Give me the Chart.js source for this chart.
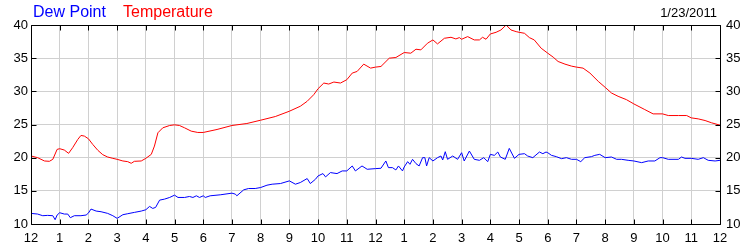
<!DOCTYPE html>
<html>
<head>
<meta charset="utf-8">
<script src="https://cdn.jsdelivr.net/npm/chart.js@4.4.1/dist/chart.umd.min.js"></script>
<style>
  html, body { margin: 0; padding: 0; background: #fff; }
  #wrap { position: relative; width: 750px; height: 250px; overflow: hidden; }
  #wrap canvas { position: absolute; left: 0; top: 0; }
  .lbl { position: absolute; font-family: "Liberation Sans", Arial, sans-serif; white-space: nowrap; }
  #dew { left: 33px; top: 4px; font-size: 16px; line-height: 16px; color: #0000ff; }
  #tmp { left: 123px; top: 4px; font-size: 16px; line-height: 16px; color: #ff0000; }
  #date { right: 33px; top: 6px; font-size: 13px; line-height: 13px; color: #000; }
</style>
</head>
<body>
<div id="wrap">
  <canvas id="c" width="750" height="250"></canvas>
  <div class="lbl" id="dew">Dew Point</div>
  <div class="lbl" id="tmp">Temperature</div>
  <div class="lbl" id="date">1/23/2011</div>
</div>
<script>
// ---- data (hours after midnight, degrees) ----
const hourLabels = ['12','1','2','3','4','5','6','7','8','9','10','11','12','1','2','3','4','5','6','7','8','9','10','11','12'];
const yMin = 10, yMax = 40, yStep = 5;

const tempTimes = [
  0, 0.23, 0.47, 0.64, 0.76, 0.91, 1.0, 1.16, 1.31, 1.45, 1.63, 1.74, 1.86, 2.0, 2.15, 2.33, 2.5, 2.67, 2.85, 3.0,
  3.2, 3.37, 3.49, 3.6, 3.84, 4.0, 4.19, 4.3, 4.42, 4.59, 4.83, 5.0, 5.17, 5.35, 5.58, 5.81, 6.0, 6.48, 7.0, 7.52,
  8.0, 8.51, 9.0, 9.38, 9.62, 9.85, 10.0, 10.2, 10.37, 10.55, 10.78, 11.0, 11.19, 11.36, 11.59, 11.83, 12.0, 12.19, 12.48, 12.71,
  13.0, 13.23, 13.41, 13.58, 13.81, 14.0, 14.16, 14.4, 14.63, 14.8, 14.92, 15.0, 15.21, 15.44, 15.62, 15.73, 15.85, 16.0, 16.2, 16.37,
  16.55, 16.72, 16.9, 17.0, 17.19, 17.36, 17.53, 17.77, 18.0, 18.19, 18.36, 18.6, 18.83, 19.0, 19.23, 19.47, 19.76, 20.0, 20.22, 20.45,
  20.74, 21.0, 21.38, 21.67, 22.0, 22.2, 22.55, 22.84, 23.0, 23.24, 23.48, 23.71, 24.0
];
const tempValues = [
  20.25, 20.0, 19.5, 19.45, 19.75, 21.25, 21.35, 21.15, 20.65, 21.5, 22.75, 23.35, 23.25, 22.85, 22.0, 21.1, 20.45, 20.1, 19.9, 19.75,
  19.5, 19.4, 19.15, 19.45, 19.5, 19.9, 20.5, 21.75, 23.75, 24.5, 24.85, 24.95, 24.85, 24.5, 24.0, 23.8, 23.8, 24.25, 24.85, 25.15,
  25.65, 26.2, 27.0, 27.75, 28.5, 29.5, 30.4, 31.25, 31.1, 31.4, 31.25, 31.75, 32.75, 33.0, 34.1, 33.5, 33.65, 33.75, 35.0, 35.1,
  35.85, 35.75, 36.35, 36.25, 37.25, 37.75, 37.15, 38.0, 38.15, 37.9, 38.1, 37.85, 38.25, 37.75, 37.75, 38.15, 37.85, 38.65, 38.9, 39.25,
  40.0, 39.25, 39.0, 38.9, 38.75, 38.1, 37.75, 36.5, 35.75, 35.15, 34.5, 34.1, 33.8, 33.65, 33.5, 32.75, 31.5, 30.6, 29.75, 29.25,
  28.75, 28.1, 27.25, 26.6, 26.6, 26.35, 26.35, 26.35, 26.0, 25.85, 25.6, 25.25, 24.9
];

const dewTimes = [
  0, 0.23, 0.41, 0.58, 0.76, 0.84, 0.91, 1.0, 1.16, 1.28, 1.37, 1.51, 1.74, 1.92, 2.0, 2.09, 2.27, 2.44, 2.67, 2.85,
  3.0, 3.2, 3.37, 3.6, 3.84, 4.0, 4.13, 4.24, 4.34, 4.48, 4.65, 4.83, 5.0, 5.12, 5.35, 5.52, 5.64, 5.76, 5.87, 6.0,
  6.07, 6.24, 6.59, 7.0, 7.12, 7.17, 7.41, 7.58, 7.81, 8.0, 8.22, 8.4, 8.69, 9.0, 9.21, 9.38, 9.62, 9.73, 9.91, 10.0,
  10.17, 10.26, 10.43, 10.66, 10.84, 11.0, 11.19, 11.3, 11.53, 11.71, 12.0,
  12.19, 12.36, 12.45, 12.59, 12.71, 12.8, 12.94, 13.0, 13.12, 13.2, 13.29, 13.41, 13.52, 13.64, 13.72, 13.78, 13.87, 14.0, 14.16, 14.28,
  14.34, 14.43, 14.51, 14.69, 14.86, 15.0, 15.09, 15.27, 15.44, 15.62, 15.77, 15.91, 16.0, 16.14, 16.26, 16.35, 16.52, 16.66, 16.84, 17.0,
  17.19, 17.3, 17.48, 17.71, 17.83, 17.94,
  18.0, 18.13, 18.3, 18.48, 18.65, 18.83, 19.0, 19.15, 19.29, 19.52, 19.64, 19.81, 20.0, 20.22, 20.4, 20.57, 20.8, 21.0, 21.27, 21.5,
  21.73, 21.91, 22.0, 22.2, 22.55, 22.66, 22.78, 23.0, 23.24, 23.42, 23.59, 23.83, 24.0
];
const dewValues = [
  11.6, 11.5, 11.25, 11.3, 11.25, 10.65, 11.35, 11.7, 11.5, 11.5, 10.95, 11.25, 11.25, 11.35, 11.65, 12.25, 11.95, 11.85, 11.6, 11.25,
  10.85, 11.4, 11.55, 11.75, 11.95, 12.15, 12.65, 12.35, 12.5, 13.6, 13.75, 14.0, 14.35, 14.0, 14.0, 14.15, 14.0, 14.25, 14.0, 14.25,
  14.0, 14.25, 14.4, 14.65, 14.5, 14.25, 15.15, 15.35, 15.35, 15.5, 15.85, 16.0, 16.1, 16.5, 16.0, 16.25, 16.85, 16.1, 16.75, 17.25,
  17.6, 17.1, 17.75, 17.6, 18.0, 18.0, 18.75, 18.0, 18.75, 18.25, 18.35,
  18.4, 19.5, 18.5, 18.5, 18.15, 18.75, 18.0, 18.6, 19.4, 19.0, 19.75, 19.1, 18.75, 20.0, 20.0, 18.75, 20.0, 19.5, 20.0, 20.25,
  19.65, 20.9, 19.75, 20.25, 19.75, 20.75, 19.5, 21.0, 19.75, 19.6, 20.0, 19.4, 20.5, 20.35, 20.85, 20.1, 19.75, 21.4, 19.9, 20.5,
  20.6, 20.25, 20.0, 20.85, 20.6, 20.85,
  20.75, 20.35, 20.15, 19.85, 20.0, 19.75, 19.75, 19.4, 20.0, 20.15, 20.35, 20.5, 20.0, 20.1, 19.75, 19.75, 19.6, 19.5, 19.25, 19.5,
  19.5, 20.0, 20.0, 19.75, 19.75, 20.1, 19.9, 19.9, 19.75, 20.0, 19.6, 19.5, 19.6
];

// ---- build ----
const toPoints = (xs, ys) => xs.map((x, i) => ({ x: x, y: ys[i] }));
const FONT = { family: '"Liberation Sans", Arial, sans-serif', size: 13 };

const framePlugin = {
  id: 'frame',
  afterDraw(chart) {
    const ctx = chart.ctx, a = chart.chartArea;
    const xs = chart.scales.x, ys = chart.scales.y;
    const L = Math.round(a.left) + 0.5, R = Math.round(a.right) + 0.5;
    const T = Math.round(a.top) + 0.5, B = Math.round(a.bottom) + 0.5;
    ctx.save();
    ctx.strokeStyle = '#000';
    ctx.lineWidth = 1;
    ctx.beginPath();
    ctx.rect(L, T, R - L, B - T);
    const tl = 5;
    xs.ticks.forEach(t => {
      const px = Math.round(xs.getPixelForValue(t.value)) + 0.5;
      ctx.moveTo(px, T); ctx.lineTo(px, T + tl);
      ctx.moveTo(px, B); ctx.lineTo(px, B - tl);
    });
    ys.ticks.forEach(t => {
      const py = Math.round(ys.getPixelForValue(t.value)) + 0.5;
      ctx.moveTo(L, py); ctx.lineTo(L + tl, py);
      ctx.moveTo(R, py); ctx.lineTo(R - tl, py);
    });
    ctx.stroke();
    ctx.restore();
  }
};

new Chart(document.getElementById('c'), {
  type: 'line',
  data: {
    datasets: [
      { label: 'Dew Point', data: toPoints(dewTimes, dewValues), borderColor: '#0000ff', borderWidth: 1, pointRadius: 0, tension: 0, fill: false },
      { label: 'Temperature', data: toPoints(tempTimes, tempValues), borderColor: '#ff0000', borderWidth: 1, pointRadius: 0, tension: 0, fill: false }
    ]
  },
  options: {
    responsive: false,
    animation: false,
    events: [],
    layout: { padding: { top: 25, left: 0, right: 0, bottom: 0 } },
    plugins: { legend: { display: false }, tooltip: { enabled: false }, title: { display: false } },
    scales: {
      x: {
        type: 'linear', min: 0, max: 24,
        afterFit(s) { s.height = 26; },
        border: { display: false },
        grid: { color: '#d0d0d0', lineWidth: 1, drawTicks: false },
        ticks: { stepSize: 1, autoSkip: false, maxRotation: 0, color: '#000', font: FONT, padding: 7,
                 callback: v => hourLabels[v] }
      },
      y: {
        position: 'left', min: yMin, max: yMax,
        afterFit(s) { s.width = 31; },
        border: { display: false },
        grid: { color: '#d0d0d0', lineWidth: 1, drawTicks: false },
        ticks: { stepSize: yStep, color: '#000', font: FONT, padding: 3 }
      },
      y2: {
        position: 'right', min: yMin, max: yMax,
        afterFit(s) { s.width = 30; },
        border: { display: false },
        grid: { drawOnChartArea: false, drawTicks: false },
        ticks: { stepSize: yStep, color: '#000', font: FONT, padding: 6 }
      }
    }
  },
  plugins: [framePlugin]
});
</script>
</body>
</html>
